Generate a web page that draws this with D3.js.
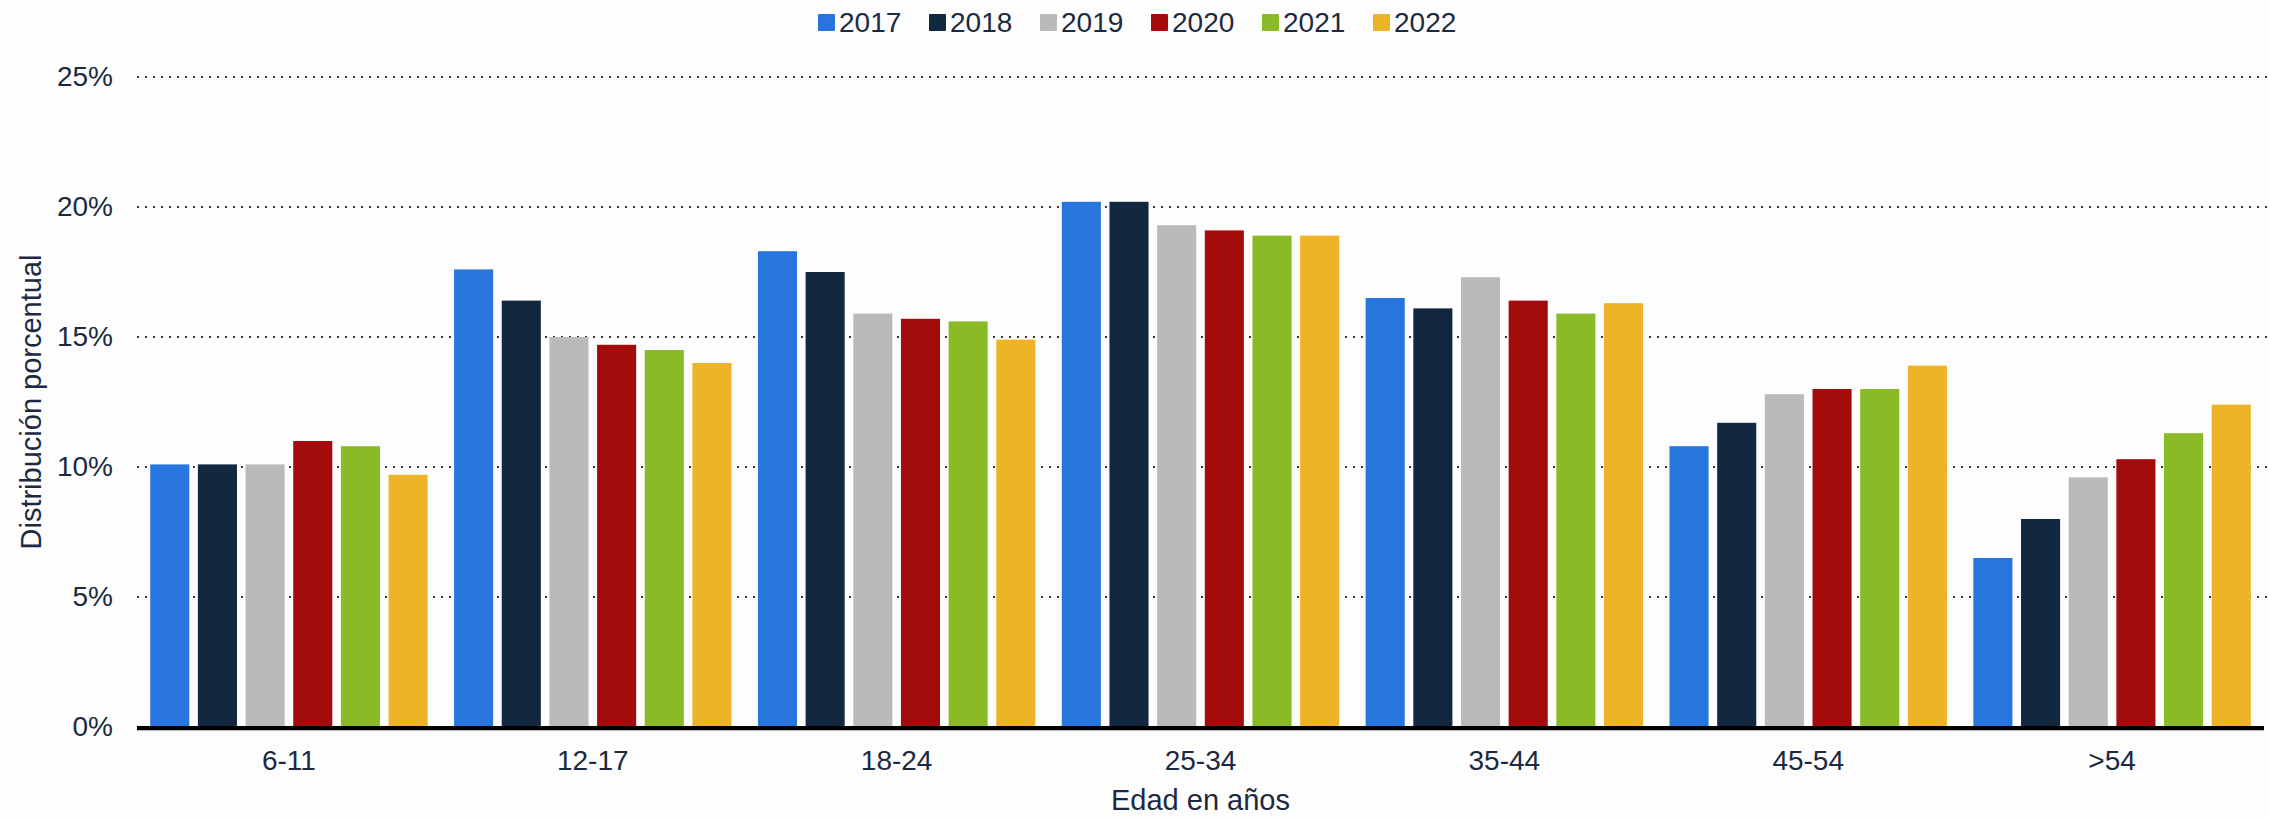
<!DOCTYPE html>
<html>
<head>
<meta charset="utf-8">
<script src="https://cdn.jsdelivr.net/npm/d3@7"></script>
<style>
    html, body { margin: 0; padding: 0; background: #fdfdfd; }
    #chart { width: 2269px; height: 818px; }
    text { font-family: "Liberation Sans", Arial, sans-serif; fill: #1b2a41; }
</style>
</head>
<body>
<div id="chart"></div>
<script>
const ageGroups = ['6-11', '12-17', '18-24', '25-34', '35-44', '45-54', '>54'];
const years = ['2017', '2018', '2019', '2020', '2021', '2022'];
const colors = ['#2876dd', '#12283f', '#bababa', '#a40b0d', '#8abb26', '#ecb426'];

// percent share by age group, one array per year
const v2017 = [10.1, 17.6, 18.3, 20.2, 16.5, 10.8, 6.5];
const v2018 = [10.1, 16.4, 17.5, 20.2, 16.1, 11.7, 8.0];
const v2019 = [10.1, 15.0, 15.9, 19.3, 17.3, 12.8, 9.6];
const v2020 = [11.0, 14.7, 15.7, 19.1, 16.4, 13.0, 10.3];
const v2021 = [10.8, 14.5, 15.6, 18.9, 15.9, 13.0, 11.3];
const v2022 = [9.7, 14.0, 14.9, 18.9, 16.3, 13.9, 12.4];
const yTicks = [0, 5, 10, 15, 20, 25];

const series = [v2017, v2018, v2019, v2020, v2021, v2022];
const rows = ageGroups.map((g, i) => ({
    group: g,
    values: years.map((y, j) => ({year: y, value: series[j][i]}))
}));

const element = document.getElementById('chart');
const width = 2269;
const height = 818;
const margin = {top: 77, bottom: 91, left: 137, right: 5};
const svgWidth = width - margin.left - margin.right;
const svgHeight = height - margin.top - margin.bottom;

const x0 = d3.scaleBand()
    .domain(ageGroups)
    .range([0, svgWidth])
    .paddingInner(0.087)
    .paddingOuter(0.0435);

const x1 = d3.scaleBand()
    .domain(years)
    .range([0, x0.bandwidth()])
    .paddingInner(0.18);

const y = d3.scaleLinear()
    .domain([0, 25])
    .range([svgHeight, 0]);

const color = d3.scaleOrdinal().domain(years).range(colors);

const root = d3.select(element)
    .append('svg')
    .attr('width', width)
    .attr('height', height);

root.append('rect')
    .attr('width', width)
    .attr('height', height)
    .attr('fill', '#fdfdfd');

const svg = root.append('g')
    .attr('transform', `translate(${margin.left},${margin.top})`);

// dotted grid
svg.append('g')
    .attr('class', 'grid')
    .selectAll('line')
    .data(yTicks.filter(d => d > 0))
    .enter().append('line')
    .attr('x1', 0)
    .attr('x2', width - margin.left)
    .attr('y1', d => y(d))
    .attr('y2', d => y(d))
    .attr('stroke', '#3a3a3a')
    .attr('stroke-width', 2)
    .attr('stroke-dasharray', '2,6');

const yAxis = d3.axisLeft(y)
    .tickValues(yTicks)
    .tickSize(0)
    .tickPadding(24)
    .tickFormat(d => d + '%');

svg.append('g')
    .attr('class', 'y axis')
    .call(yAxis)
    .call(g => g.select('.domain').remove())
    .selectAll('text')
    .style('font-size', '28px');

const groups = svg.selectAll('.group')
    .data(rows)
    .enter().append('g')
    .attr('class', 'group')
    .attr('transform', d => `translate(${x0(d.group)},0)`);

groups.selectAll('.bar')
    .data(d => d.values)
    .enter().append('rect')
    .attr('class', 'bar')
    .attr('x', d => x1(d.year))
    .attr('y', d => y(d.value))
    .attr('width', x1.bandwidth())
    .attr('height', d => svgHeight - y(d.value))
    .style('fill', d => color(d.year));

const xAxis = d3.axisBottom(x0)
    .tickSize(0)
    .tickPadding(23);

const xg = svg.append('g')
    .attr('class', 'x axis')
    .attr('transform', `translate(0,${svgHeight})`)
    .call(xAxis);

xg.select('.domain').remove();
xg.selectAll('text').style('font-size', '28px');

svg.append('line')
    .attr('x1', 0)
    .attr('x2', svgWidth)
    .attr('y1', svgHeight + 1)
    .attr('y2', svgHeight + 1)
    .attr('stroke', '#000')
    .attr('stroke-width', 4);

svg.append('line')
    .attr('x1', 0)
    .attr('x2', svgWidth)
    .attr('y1', svgHeight + 3.5)
    .attr('y2', svgHeight + 3.5)
    .attr('stroke', '#b8b8b8')
    .attr('stroke-width', 1);

svg.append('text')
    .attr('x', svgWidth / 2)
    .attr('y', svgHeight + 83)
    .attr('text-anchor', 'middle')
    .style('font-size', '29px')
    .text('Edad en años');

root.append('text')
    .attr('transform', `translate(41,${margin.top + svgHeight / 2}) rotate(-90)`)
    .attr('text-anchor', 'middle')
    .style('font-size', '29px')
    .text('Distribución porcentual');

// legend
const legendStep = 111;
const legend = root.append('g')
    .attr('transform', 'translate(818,22)');

const items = legend.selectAll('.item')
    .data(years)
    .enter().append('g')
    .attr('class', 'item')
    .attr('transform', (d, i) => `translate(${i * legendStep},0)`);

items.append('rect')
    .attr('x', 0)
    .attr('y', -8)
    .attr('width', 17)
    .attr('height', 17)
    .attr('rx', 1)
    .style('fill', d => color(d));

items.append('text')
    .attr('x', 21)
    .attr('y', 10)
    .style('font-size', '28px')
    .text(d => d);
</script>
</body>
</html>
